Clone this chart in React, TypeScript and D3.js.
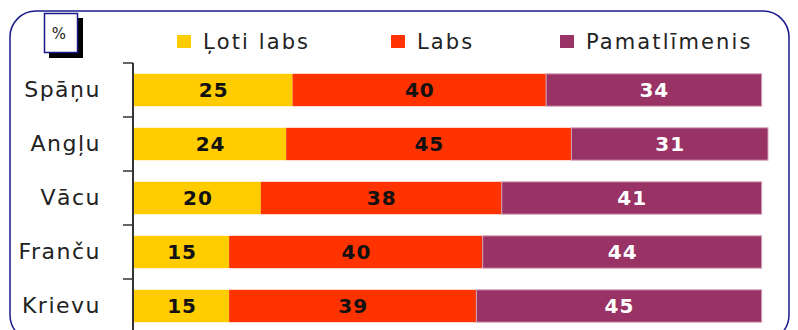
import { useEffect, useRef } from "react";
import * as d3 from "d3";

const width = 798;
const height = 330;

const languages = ["Spāņu", "Angļu", "Vācu", "Franču", "Krievu"];
const seriesNames = ["Ļoti labs", "Labs", "Pamatlīmenis"];
const veryGood = [25, 24, 20, 15, 15];
const good = [40, 45, 38, 40, 39];
const basic = [34, 31, 41, 44, 45];
const colors = ["#ffcc00", "#ff3300", "#993366"];
const labelColors = ["#111", "#111", "#fff"];

const font = "DejaVu Sans, Verdana, sans-serif";

const App = () => {
  const ref = useRef<SVGSVGElement>(null);

  useEffect(() => {
    const svg = d3.select(ref.current);
    svg.selectAll("*").remove();

    const rows = languages.map((lang, i) => ({
      lang,
      vals: [veryGood[i], good[i], basic[i]],
    }));

    const x = d3.scaleLinear().domain([0, 100]).range([134, 768]);
    const y = d3.scaleBand().domain(languages).range([63, 333]).paddingInner(0.4).paddingOuter(0.2);

    // frame
    svg.append("rect")
      .attr("x", 10).attr("y", 11)
      .attr("width", 779).attr("height", 330)
      .attr("rx", 26)
      .attr("fill", "#fff")
      .attr("stroke", "#1a1a8c")
      .attr("stroke-width", 1.5);

    // % box
    svg.append("rect").attr("x", 49).attr("y", 18).attr("width", 34).attr("height", 40).attr("fill", "#000");
    svg.append("rect").attr("x", 44.5).attr("y", 13.5).attr("width", 33).attr("height", 39)
      .attr("fill", "#fff").attr("stroke", "#1a1a8c").attr("stroke-width", 1.5);
    svg.append("text").attr("x", 59).attr("y", 39).attr("text-anchor", "middle")
      .attr("font-size", 15).attr("font-family", font)
      .attr("fill", "#222").text("%");

    // legend
    const legendX = [177, 391, 560];
    seriesNames.forEach((name, i) => {
      svg.append("rect").attr("x", legendX[i]).attr("y", 35).attr("width", 14).attr("height", 13).attr("fill", colors[i]);
      svg.append("text").attr("x", legendX[i] + 26).attr("y", 49)
        .attr("font-size", 21).attr("font-family", font)
        .attr("letter-spacing", 2.1)
        .attr("fill", "#222").text(name);
    });

    // bars
    const g = svg.append("g");
    rows.forEach((r) => {
      let acc = 0;
      r.vals.forEach((v, i) => {
        const x0 = x(acc);
        const x1 = x(acc + v);
        acc += v;
        g.append("rect")
          .attr("x", x0).attr("y", y(r.lang)!)
          .attr("width", x1 - x0).attr("height", y.bandwidth())
          .attr("fill", colors[i])
          .attr("stroke", i === 2 ? "#d4a3bb" : "none")
          .attr("stroke-width", 1);
        g.append("text")
          .attr("x", (x0 + x1) / 2 + 0.5)
          .attr("y", y(r.lang)! + y.bandwidth() / 2)
          .attr("dy", "0.36em")
          .attr("text-anchor", "middle")
          .attr("font-size", 20).attr("font-weight", "bold")
          .attr("letter-spacing", 1)
          .attr("font-family", font)
          .attr("fill", labelColors[i])
          .text(v);
      });
    });

    // axis
    const axis = d3.axisLeft(y).tickSize(0).tickPadding(32);
    const ag = svg.append("g").attr("transform", "translate(133,0)").call(axis);
    ag.select(".domain").remove();
    ag.selectAll("text")
      .attr("font-size", 22)
      .attr("letter-spacing", 1.5)
      .attr("font-family", font)
      .attr("fill", "#222");
    svg.append("line").attr("x1", 133).attr("x2", 133).attr("y1", 63).attr("y2", 335)
      .attr("stroke", "#333").attr("stroke-width", 2);
    const step = y.step();
    languages.forEach((_, i) => {
      const ty = 63 + i * step;
      svg.append("line").attr("x1", 123).attr("x2", 133).attr("y1", ty).attr("y2", ty)
        .attr("stroke", "#333").attr("stroke-width", 1.5);
    });
  }, []);

  return (
    <svg ref={ref} width={width} height={height} style={{ display: "block", position: "absolute", left: 0, top: 0 }} />
  );
};

export default App;
